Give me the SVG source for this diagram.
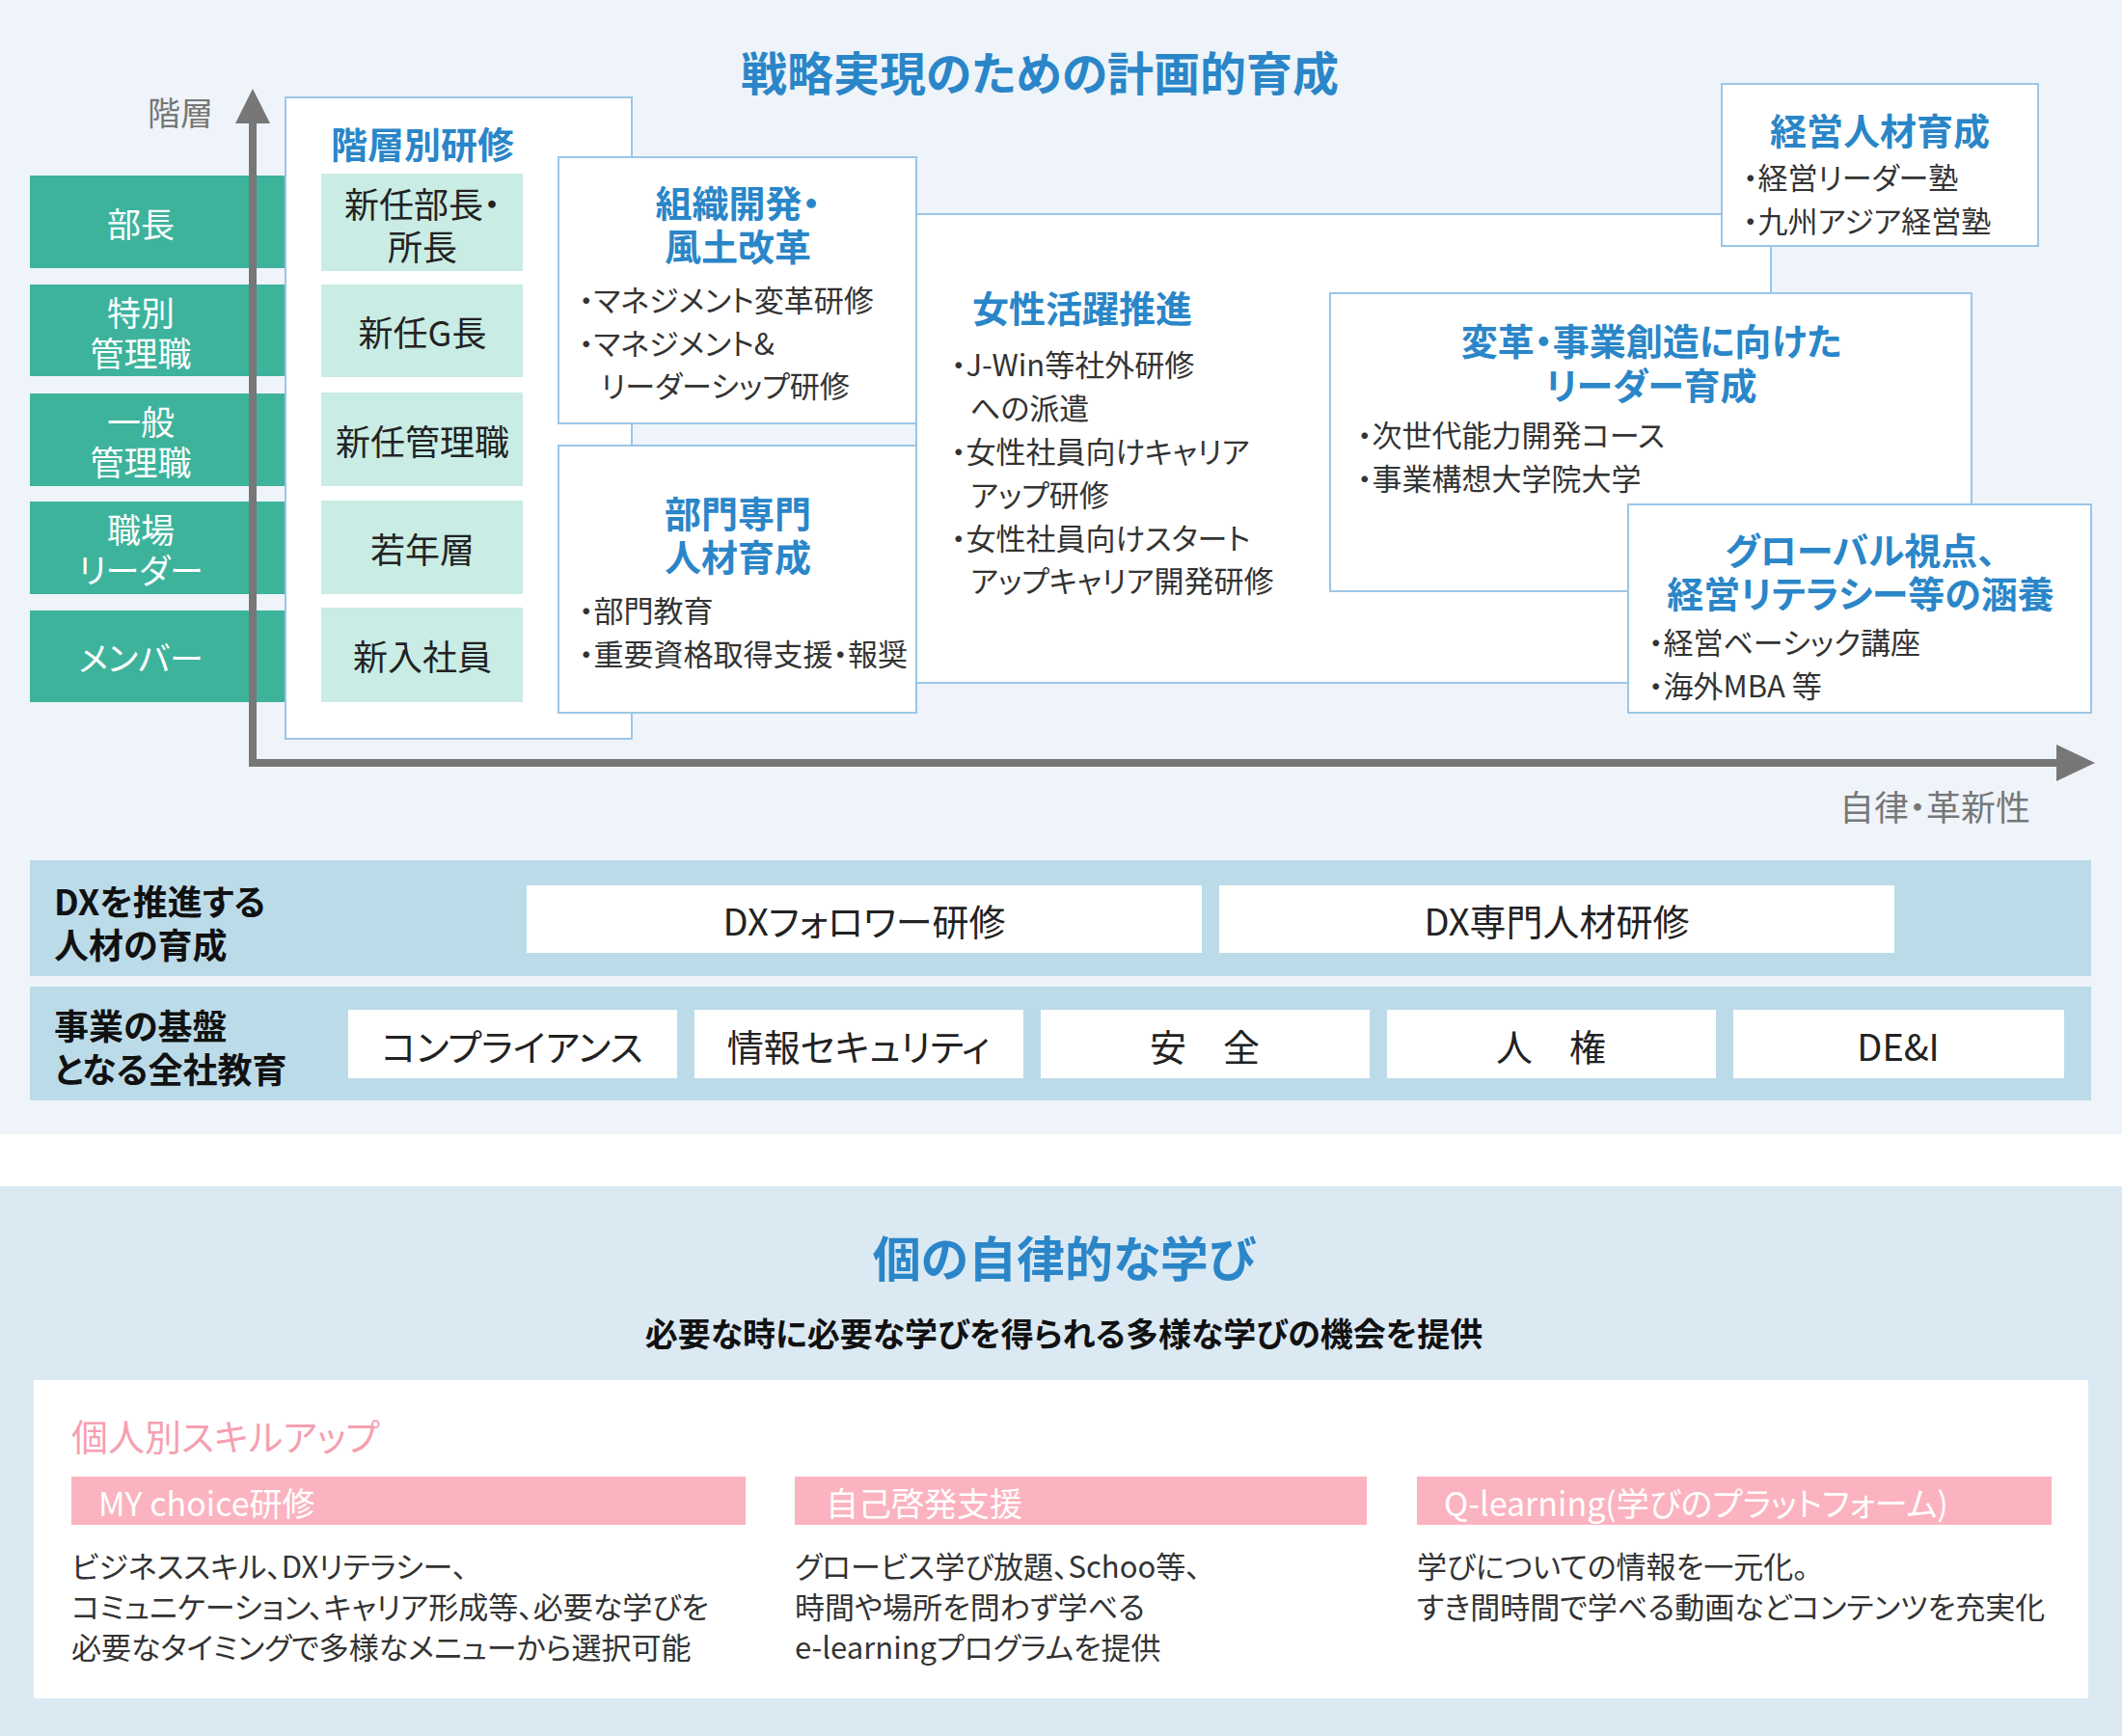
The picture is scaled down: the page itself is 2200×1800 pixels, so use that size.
<svg xmlns="http://www.w3.org/2000/svg" width="2200" height="1800" viewBox="0 0 2200 1800">
<style>
text{font-family:"Noto Sans CJK JP","Noto Sans",sans-serif;dominant-baseline:central;font-feature-settings:"palt"}
.bx{fill:#fff;stroke:#9cc6e6;stroke-width:2}
.t{fill:#2a86c8;font-weight:bold;font-size:38px;text-anchor:middle}
.b{fill:#333;font-size:31px}
.g{fill:#3db39c}
.gt{fill:#fff;font-size:35px;text-anchor:middle}
.lt{fill:#c9ece4}
.lx{fill:#222;font-size:36px;text-anchor:middle}
.bl{fill:#111;font-weight:bold;font-size:36px}
.w{fill:#fff}
.wt{fill:#222;font-size:38px;text-anchor:middle}
.pk{fill:#fbb3bf}
.pt{fill:#fff;font-size:34px}
.ax{stroke:#777;stroke-width:8;fill:none}
</style>
<rect x="0" y="0" width="2200" height="1176" fill="#eef4f9"/>
<rect x="0" y="1230" width="2200" height="570" fill="#dbe9f3"/>
<text x="1078" y="73" font-size="48" font-weight="bold" fill="#2a86c8" text-anchor="middle">戦略実現のための計画的育成</text>

<g id="levels">
<rect class="g" x="31" y="182" width="264" height="96"/><text class="gt" x="146" y="230">部長</text>
<rect class="g" x="31" y="295" width="264" height="95"/><text class="gt" x="146" y="322">特別</text><text class="gt" x="146" y="364">管理職</text>
<rect class="g" x="31" y="408" width="264" height="96"/><text class="gt" x="146" y="435">一般</text><text class="gt" x="146" y="477">管理職</text>
<rect class="g" x="31" y="520" width="264" height="96"/><text class="gt" x="146" y="547">職場</text><text class="gt" x="146" y="589">リーダー</text>
<rect class="g" x="31" y="633" width="264" height="95"/><text class="gt" x="146" y="680">メンバー</text>
</g>

<g id="women"><rect class="bx" x="950" y="222" width="886" height="486"/>
<text class="t" x="1122" y="317">女性活躍推進</text>
<text class="b" x="986" y="376">・J-Win等社外研修</text><text class="b" x="1006" y="421">への派遣</text>
<text class="b" x="986" y="466">・女性社員向けキャリア</text><text class="b" x="1006" y="511">アップ研修</text>
<text class="b" x="986" y="556">・女性社員向けスタート</text><text class="b" x="1006" y="600">アップキャリア開発研修</text></g>

<g id="connectors">
<path class="ax" d="M262 795 V120"/><path d="M262 92 L244 128 L280 128 Z" fill="#777"/>
<path class="ax" d="M258 791 H2140"/><path d="M2172 791 L2132 772 L2132 810 Z" fill="#777"/>
</g>
<text x="187" y="115" font-size="34" fill="#777" text-anchor="middle">階層</text>
<text x="2006" y="835" font-size="36" fill="#777" text-anchor="middle">自律・革新性</text>

<g id="kaiso"><rect class="bx" x="296" y="101" width="359" height="665"/>
<text class="t" x="438" y="147">階層別研修</text>
<rect class="lt" x="333" y="180" width="209" height="101"/><text class="lx" x="438" y="210">新任部長・</text><text class="lx" x="438" y="254">所長</text>
<rect class="lt" x="333" y="295" width="209" height="96"/><text class="lx" x="438" y="343">新任G長</text>
<rect class="lt" x="333" y="407" width="209" height="97"/><text class="lx" x="438" y="456">新任管理職</text>
<rect class="lt" x="333" y="519" width="209" height="97"/><text class="lx" x="438" y="568">若年層</text>
<rect class="lt" x="333" y="630" width="209" height="98"/><text class="lx" x="438" y="679">新入社員</text></g>

<g id="soshiki"><rect class="bx" x="579" y="163" width="371" height="276"/>
<text class="t" x="765" y="208">組織開発・</text><text class="t" x="765" y="253">風土改革</text>
<text class="b" x="600" y="309">・マネジメント変革研修</text><text class="b" x="600" y="354">・マネジメント&amp;</text><text class="b" x="623" y="398">リーダーシップ研修</text></g>

<g id="bumon"><rect class="bx" x="579" y="462" width="371" height="277"/>
<text class="t" x="765" y="530">部門専門</text><text class="t" x="765" y="575">人材育成</text>
<text class="b" x="600" y="631">・部門教育</text><text class="b" x="600" y="676">・重要資格取得支援・報奨</text></g>

<g id="henkaku"><rect class="bx" x="1379" y="304" width="665" height="309"/>
<text class="t" x="1712" y="351">変革・事業創造に向けた</text><text class="t" x="1712" y="397">リーダー育成</text>
<text class="b" x="1407" y="449">・次世代能力開発コース</text><text class="b" x="1407" y="494">・事業構想大学院大学</text></g>

<g id="keiei"><rect class="bx" x="1785" y="87" width="328" height="168"/>
<text class="t" x="1949" y="133">経営人材育成</text>
<text class="b" x="1807" y="182">・経営リーダー塾</text><text class="b" x="1807" y="227">・九州アジア経営塾</text></g>

<g id="global"><rect class="bx" x="1688" y="523" width="480" height="216"/>
<text class="t" x="1929" y="568">グローバル視点、</text><text class="t" x="1929" y="613">経営リテラシー等の涵養</text>
<text class="b" x="1709" y="664">・経営ベーシック講座</text><text class="b" x="1709" y="709">・海外MBA 等</text></g>

<g id="dx"><rect x="31" y="892" width="2137" height="120" fill="#bcdbe9"/>
<text class="bl" x="56" y="933">DXを推進する</text><text class="bl" x="56" y="978">人材の育成</text>
<rect class="w" x="546" y="918" width="700" height="70"/><text class="wt" x="896" y="953">DXフォロワー研修</text>
<rect class="w" x="1264" y="918" width="700" height="70"/><text class="wt" x="1614" y="953">DX専門人材研修</text></g>

<g id="base"><rect x="31" y="1023" width="2137" height="118" fill="#bcdbe9"/>
<text class="bl" x="56" y="1062">事業の基盤</text><text class="bl" x="56" y="1107">となる全社教育</text>
<rect class="w" x="361" y="1047" width="341" height="71"/><text class="wt" x="531" y="1083">コンプライアンス</text>
<rect class="w" x="720" y="1047" width="341" height="71"/><text class="wt" x="890" y="1083">情報セキュリティ</text>
<rect class="w" x="1079" y="1047" width="341" height="71"/><text class="wt" x="1249" y="1083">安　全</text>
<rect class="w" x="1438" y="1047" width="341" height="71"/><text class="wt" x="1608" y="1083">人　権</text>
<rect class="w" x="1797" y="1047" width="343" height="71"/><text class="wt" x="1968" y="1083">DE&amp;I</text></g>

<text x="1103" y="1302" font-size="50" font-weight="bold" fill="#2a86c8" text-anchor="middle">個の自律的な学び</text>
<text x="1103" y="1381" font-size="34" font-weight="bold" fill="#111" text-anchor="middle">必要な時に必要な学びを得られる多様な学びの機会を提供</text>

<g id="skill"><rect class="w" x="35" y="1431" width="2130" height="330"/>
<text x="74" y="1487" font-size="38" fill="#f5a0b0">個人別スキルアップ</text>
<rect class="pk" x="74" y="1531" width="699" height="50"/><text class="pt" x="102" y="1557">MY choice研修</text>
<rect class="pk" x="824" y="1531" width="593" height="50"/><text class="pt" x="856" y="1557">自己啓発支援</text>
<rect class="pk" x="1469" y="1531" width="658" height="50"/><text class="pt" x="1497" y="1557">Q-learning(学びのプラットフォーム)</text>
<text class="b" x="74" y="1622">ビジネススキル、DXリテラシー、</text><text class="b" x="74" y="1664">コミュニケーション、キャリア形成等、必要な学びを</text><text class="b" x="74" y="1706">必要なタイミングで多様なメニューから選択可能</text>
<text class="b" x="824" y="1622">グロービス学び放題、Schoo等、</text><text class="b" x="824" y="1664">時間や場所を問わず学べる</text><text class="b" x="824" y="1706">e-learningプログラムを提供</text>
<text class="b" x="1469" y="1622">学びについての情報を一元化。</text><text class="b" x="1469" y="1664">すき間時間で学べる動画などコンテンツを充実化</text></g>
</svg>
